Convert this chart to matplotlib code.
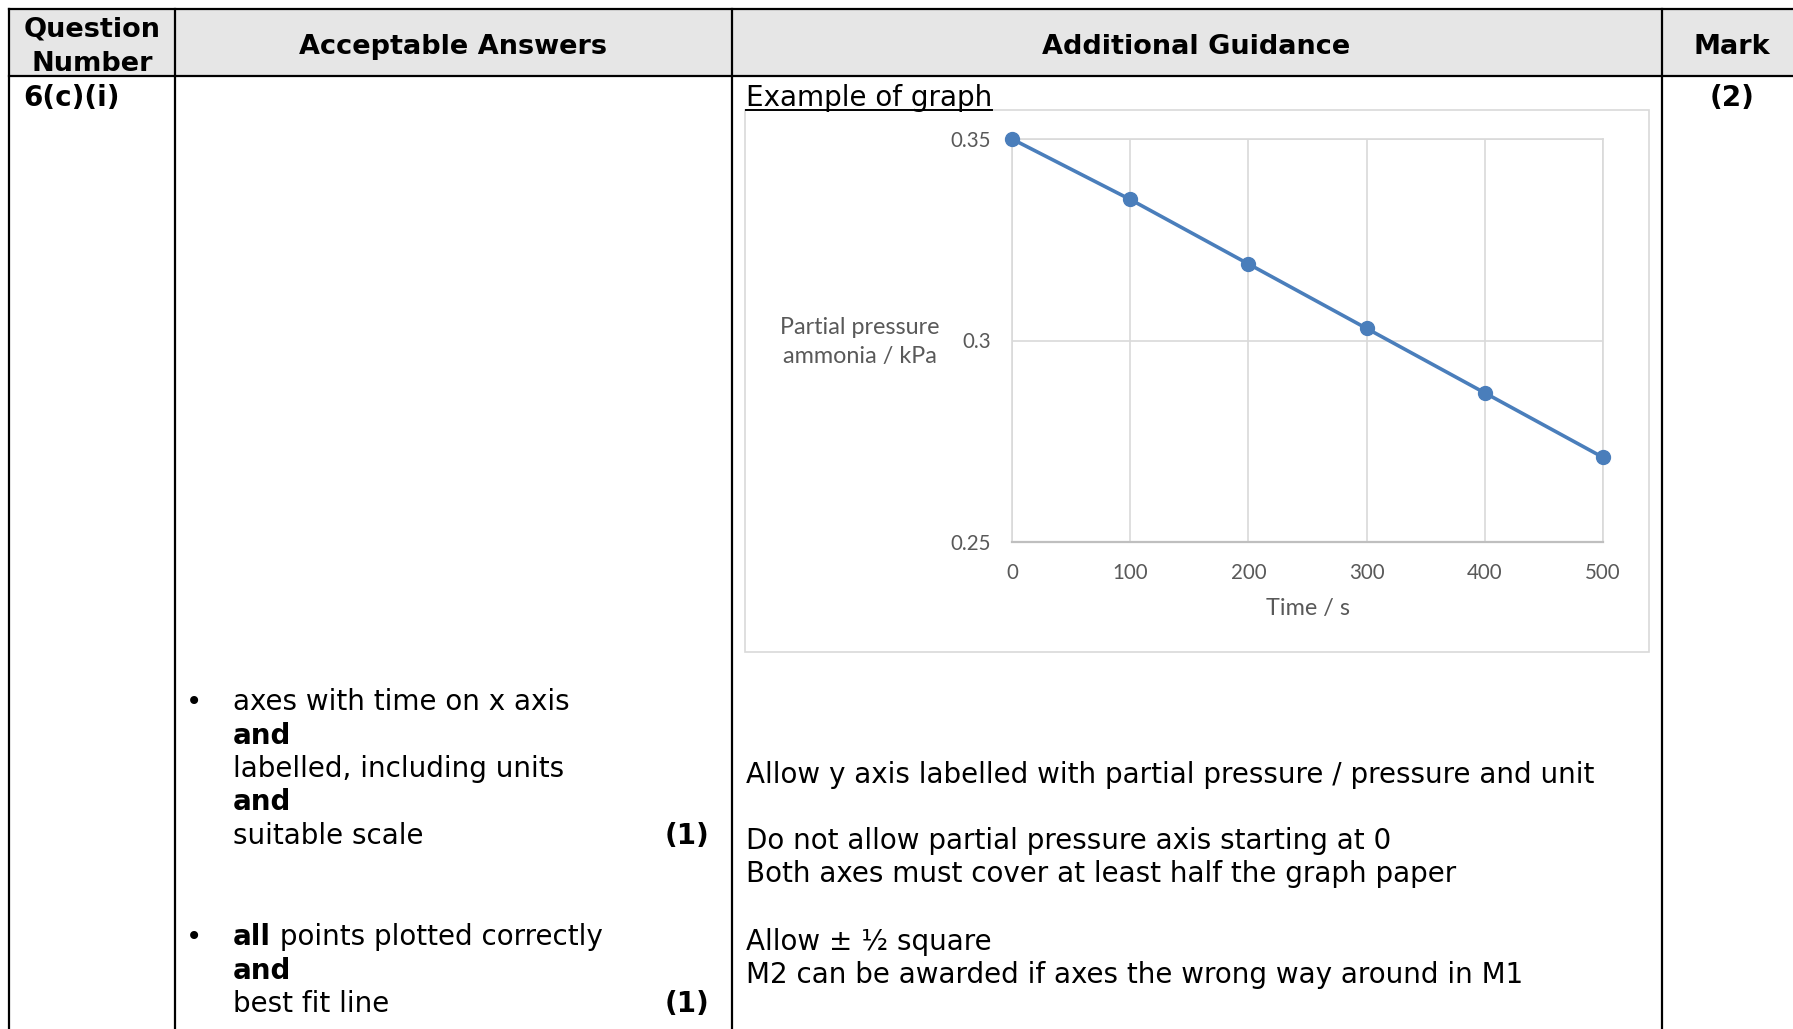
import matplotlib
matplotlib.use("Agg")
import matplotlib.pyplot as plt
from matplotlib.patches import Rectangle

# ---------------- data ----------------
time_s = [0, 100, 200, 300, 400, 500]
pressure_kpa = [0.350, 0.335, 0.319, 0.303, 0.287, 0.271]
x_ticks = [0, 100, 200, 300, 400, 500]
y_ticks = [0.25, 0.30, 0.35]
y_tick_labels = ["0.25", "0.3", "0.35"]

headers = ["Question\nNumber", "Acceptable Answers", "Additional Guidance", "Mark"]
question_number = "6(c)(i)"
total_mark = "(2)"
chart_title = "Example of graph"
y_label = "Partial pressure\nammonia / kPa"
x_label = "Time / s"
guidance_lines = [
    "Allow y axis labelled with partial pressure / pressure and unit",
    "Do not allow partial pressure axis starting at 0",
    "Both axes must cover at least half the graph paper",
    "Allow \u00b1 \u00bd square",
    "M2 can be awarded if axes the wrong way around in M1",
]

W, H = 1793, 1029
fig = plt.figure(figsize=(W / 100, H / 100), dpi=100)
fig.patch.set_facecolor("white")

bg = fig.add_axes([0, 0, 1, 1])
bg.set_xlim(0, W)
bg.set_ylim(H, 0)
bg.axis("off")

# table geometry (pixels)
top, hdr_bot, left = 9, 76, 9
cols = [175, 732, 1662]
right = 1805
lw_tab = 1.6

bg.add_patch(Rectangle((left, top), right - left, hdr_bot - top,
                       facecolor="#e6e6e6", edgecolor="none", zorder=0))
bg.plot([left, right], [top, top], color="black", lw=lw_tab, zorder=2, clip_on=False)
bg.plot([left, right], [hdr_bot, hdr_bot], color="black", lw=lw_tab, zorder=2, clip_on=False)
bg.plot([left, left], [top, H + 5], color="black", lw=lw_tab, zorder=2, clip_on=False)
for c in cols:
    bg.plot([c, c], [top, H + 5], color="black", lw=lw_tab, zorder=2, clip_on=False)

body_fs = 20.0
hdr_fs = 19.5
fam = "DejaVu Sans"
dy = 2
hy = 2

# headers
bg.text(92, 27 + hy, "Question", ha="center", va="center", fontsize=hdr_fs,
        fontweight="bold", family=fam)
bg.text(92, 62 + hy, "Number", ha="center", va="center", fontsize=hdr_fs,
        fontweight="bold", family=fam)
bg.text(453, 45 + hy, headers[1], ha="center", va="center", fontsize=hdr_fs,
        fontweight="bold", family=fam)
bg.text(1196, 45 + hy, headers[2], ha="center", va="center", fontsize=hdr_fs,
        fontweight="bold", family=fam)
bg.text(1732, 45 + hy, headers[3], ha="center", va="center", fontsize=hdr_fs,
        fontweight="bold", family=fam)

# row 1
bg.text(23, 96 + dy, question_number, ha="left", va="center", fontsize=body_fs,
        fontweight="bold", family=fam)
bg.text(1732, 96 + dy, total_mark, ha="center", va="center", fontsize=body_fs,
        fontweight="bold", family=fam)
t_title = bg.text(746, 96 + dy, chart_title, ha="left", va="center", fontsize=body_fs,
                  family=fam)

renderer = fig.canvas.get_renderer()
bb = t_title.get_window_extent(renderer)
bg.plot([746, 746 + bb.width], [110, 110], color="black", lw=1.4, zorder=3)

# acceptable answers
bx, tx = 194, 233
bg.text(bx, 700 + dy, "\u2022", ha="center", va="center", fontsize=body_fs, family=fam)
bg.text(tx, 700 + dy, "axes with time on x axis", ha="left", va="center", fontsize=body_fs, family=fam)
bg.text(tx, 734 + dy, "and", ha="left", va="center", fontsize=body_fs, family=fam, fontweight="bold")
bg.text(tx, 767 + dy, "labelled, including units", ha="left", va="center", fontsize=body_fs, family=fam)
bg.text(tx, 800 + dy, "and", ha="left", va="center", fontsize=body_fs, family=fam, fontweight="bold")
bg.text(tx, 834 + dy, "suitable scale", ha="left", va="center", fontsize=body_fs, family=fam)
bg.text(709, 834 + dy, "(1)", ha="right", va="center", fontsize=body_fs, family=fam, fontweight="bold")

bg.text(bx, 935 + dy, "\u2022", ha="center", va="center", fontsize=body_fs, family=fam)
t_all = bg.text(tx, 935 + dy, "all", ha="left", va="center", fontsize=body_fs, family=fam,
                fontweight="bold")
wa = t_all.get_window_extent(renderer).width
bg.text(tx + wa, 935 + dy, " points plotted correctly", ha="left", va="center",
        fontsize=body_fs, family=fam)
bg.text(tx, 969 + dy, "and", ha="left", va="center", fontsize=body_fs, family=fam, fontweight="bold")
bg.text(tx, 1002 + dy, "best fit line", ha="left", va="center", fontsize=body_fs, family=fam)
bg.text(709, 1002 + dy, "(1)", ha="right", va="center", fontsize=body_fs, family=fam, fontweight="bold")

# guidance
for y, s in zip([773, 839, 872, 940, 973], guidance_lines):
    bg.text(746, y + dy, s, ha="left", va="center", fontsize=body_fs, family=fam)

# chart frame
bg.add_patch(Rectangle((745, 110), 1649 - 745, 652 - 110, facecolor="white",
                       edgecolor="#d9d9d9", lw=1.2, zorder=1))

# chart axes
px0, px1, py_top, py_bot = 1012, 1603, 139, 542
ax = fig.add_axes([px0 / W, (H - py_bot) / H, (px1 - px0) / W, (py_bot - py_top) / H])
ax.set_facecolor("none")
ax.plot(time_s, pressure_kpa, color="#4a7ebb", lw=2.6, marker="o", markersize=10,
        clip_on=False, zorder=5)
ax.set_xlim(0, 500)
ax.set_ylim(0.25, 0.35)
ax.set_xticks(x_ticks)
ax.set_yticks(y_ticks)
ax.set_yticklabels(y_tick_labels)
ax.grid(True, color="#d9d9d9", lw=1.2)
ax.set_axisbelow(True)
for s in ["top", "right", "left"]:
    ax.spines[s].set_color("#d9d9d9")
    ax.spines[s].set_linewidth(1.2)
ax.spines["bottom"].set_color("#bfbfbf")
ax.spines["bottom"].set_linewidth(1.6)
cf = "Lato"
ax.tick_params(length=0, labelsize=14.8, labelcolor="#595959", pad=15)
for lab in ax.get_xticklabels() + ax.get_yticklabels():
    lab.set_family(cf)
ax.set_ylabel(y_label, rotation=0, ha="center", va="center", fontsize=16.8,
              color="#595959", family=cf, linespacing=1.45)
ax.yaxis.set_label_coords((860 - px0) / (px1 - px0), (py_bot - 342) / (py_bot - py_top))
ax.set_xlabel(x_label, fontsize=16.8, color="#595959", family=cf, va="center")
ax.xaxis.set_label_coords((1308 - px0) / (px1 - px0), -(609 - py_bot) / (py_bot - py_top))

fig.savefig("out.png", dpi=100)
